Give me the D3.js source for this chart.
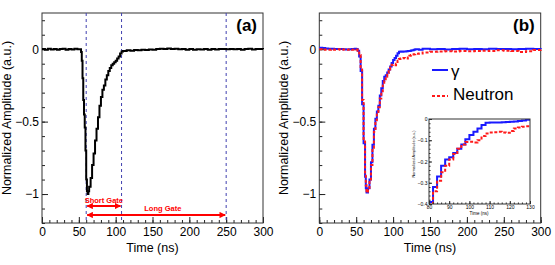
<!DOCTYPE html>
<html>
<head>
<meta charset="utf-8">
<script src="https://cdn.jsdelivr.net/npm/d3@7"></script>
<style>
  body { margin: 0; background: #fff; }
  text { font-family: "Liberation Sans", Arial, sans-serif; }
</style>
</head>
<body>
<div id="chart"></div>
<script>
// panel (a): single pulse
var timeA = [0,4,8,12,16,20,24,28,32,36,40,44,48,52,53,54,55,56,57,58,59,60,61,62,63,64,66,68,70,72,74,76,78,80,82,84,86,88,90,92,94,96,98,100,102,104,106,108,110,115,120,125,130,135,140,145,150,155,160,165,170,175,180,185,190,195,200,205,210,215,220,225,230,235,240,245,250,255,260,265,270,275,280,285,290,295,300];
var ampA = [0.002,-0.003,0.003,-0.002,0.002,-0.004,0.001,0.003,-0.003,0.002,-0.002,0.003,-0.001,0.0,-0.02,-0.08,-0.2,-0.35,-0.45,-0.54,-0.7,-0.9,-0.98,-1.0,-0.98,-0.95,-0.89,-0.8,-0.72,-0.63,-0.55,-0.47,-0.39,-0.33,-0.28,-0.25,-0.21,-0.18,-0.15,-0.13,-0.11,-0.1,-0.09,-0.08,-0.065,-0.05,-0.03,-0.015,-0.012,-0.008,-0.01,-0.005,-0.008,-0.003,-0.006,-0.002,-0.004,0.001,0.004,0.002,0.005,0.001,0.003,-0.001,0.002,-0.003,0.001,-0.004,0.0,-0.002,0.001,-0.003,0.001,-0.002,0.001,0.002,-0.001,0.002,0.0,0.002,-0.003,0.001,0.003,-0.002,0.002,0.001,0.0];

// panel (b): gamma vs neutron
var timeB = [0,4,8,12,16,20,24,28,32,36,40,44,48,50,52,54,56,58,60,62,63,64,65,66,68,70,72,74,76,78,80,82,84,86,88,90,92,94,96,98,100,102,104,106,108,110,112,114,116,118,120,122,124,126,128,130,135,140,150,160,170,180,190,200,210,220,230,240,250,260,270,280,290,300];
var gammaB = [0.01,0.008,0.005,0.004,0.003,0.002,0.002,0.001,0.0,-0.002,0.0,0.002,0.003,0.002,-0.01,-0.05,-0.15,-0.38,-0.65,-0.88,-0.96,-0.99,-0.99,-0.96,-0.9,-0.78,-0.66,-0.55,-0.48,-0.43,-0.39,-0.32,-0.27,-0.22,-0.19,-0.18,-0.16,-0.14,-0.12,-0.095,-0.075,-0.06,-0.045,-0.028,-0.018,-0.016,-0.017,-0.016,-0.015,-0.014,-0.013,-0.012,-0.009,-0.007,-0.003,0.0,-0.004,0.003,0.0,0.002,-0.002,0.001,0.003,0.0,0.002,-0.001,0.003,0.001,0.002,-0.001,0.002,0.004,0.002,0.0];
var neutronB = [0.0,-0.003,-0.002,-0.004,-0.002,-0.003,-0.001,-0.003,-0.002,-0.004,-0.002,-0.003,-0.001,-0.002,-0.01,-0.04,-0.13,-0.35,-0.62,-0.86,-0.94,-0.98,-0.99,-0.97,-0.91,-0.8,-0.68,-0.57,-0.49,-0.44,-0.4,-0.34,-0.29,-0.25,-0.22,-0.19,-0.165,-0.14,-0.12,-0.108,-0.107,-0.11,-0.1,-0.08,-0.068,-0.064,-0.062,-0.06,-0.063,-0.065,-0.057,-0.045,-0.04,-0.036,-0.034,-0.032,-0.03,-0.022,-0.018,-0.016,-0.014,-0.016,-0.012,-0.014,-0.012,-0.01,-0.012,-0.008,-0.01,-0.012,-0.02,-0.014,-0.006,-0.002];

var xTicks = [0,50,100,150,200,250,300];
var yTicks = [0,-0.5,-1];
var gates = [60,108,250];
var gateLabels = ["Short Gate","Long Gate"];
var insetXTicks = [80,90,100,110,120,130];
var insetYTicks = [0,-0.1,-0.2,-0.3,-0.4];
var seriesNames = ["\u03b3","Neutron"];

var W = 555, H = 265,
    plotTop = 13, plotBottom = 223;

var svg = d3.select("#chart").append("svg")
    .attr("width", W)
    .attr("height", H);

var y = d3.scaleLinear().domain([-1.2, 0.25]).range([plotBottom, plotTop]);

var fmt = function(d) { return d === 0 ? "0" : d3.format("")(d).replace("-", "\u2212"); };

function frame(g, x, y, xt, yt, big, small, nx, ny) {
  var x0 = x.range()[0], x1 = x.range()[1],
      y0 = y.range()[1], y1 = y.range()[0];
  // minor ticks
  g.append("g").attr("transform", "translate(0," + y1 + ")")
      .call(d3.axisBottom(x).tickValues(x.ticks(nx)).tickSize(-small).tickFormat(""))
      .call(function(s){ s.select(".domain").remove(); });
  g.append("g").attr("transform", "translate(" + x0 + ",0)")
      .call(d3.axisLeft(y).tickValues(y.ticks(ny)).tickSize(-small).tickFormat(""))
      .call(function(s){ s.select(".domain").remove(); });
  // major ticks
  var xa = g.append("g").attr("transform", "translate(0," + y1 + ")")
      .call(d3.axisBottom(x).tickValues(xt).tickSize(-big).tickPadding(big > 4 ? 4 : 1.5).tickFormat(d3.format("")));
  xa.select(".domain").remove();
  var ya = g.append("g").attr("transform", "translate(" + x0 + ",0)")
      .call(d3.axisLeft(y).tickValues(yt).tickSize(-big).tickPadding(big > 4 ? 3 : 1.5).tickFormat(fmt));
  ya.select(".domain").remove();
  g.selectAll(".tick line").attr("stroke", "#222");
  g.selectAll(".tick text").attr("fill", "#000").attr("font-family", "Liberation Sans, Arial, sans-serif");
  g.append("rect")
      .attr("x", x0).attr("y", y0)
      .attr("width", x1 - x0).attr("height", y1 - y0)
      .attr("fill", "none").attr("stroke", "#333").attr("stroke-width", 1);
  return [xa, ya];
}

function mainPanel(x0, x1, label, titleX) {
  var x = d3.scaleLinear().domain([0, 300]).range([x0, x1]);
  var g = svg.append("g");
  var ax = frame(g, x, y, xTicks, yTicks, 6, 3, 30, 15);
  ax[0].selectAll("text").attr("font-size", 12);
  ax[1].selectAll("text").attr("font-size", 12);
  g.append("text")
      .attr("x", (x0 + x1) / 2).attr("y", 252)
      .attr("text-anchor", "middle").attr("font-size", 12.5)
      .text("Time (ns)");
  g.append("text")
      .attr("transform", "translate(" + titleX + "," + (plotTop + plotBottom) / 2 + ") rotate(-90)")
      .attr("text-anchor", "middle").attr("font-size", 12.5)
      .text("Normalized Amplitude (a.u.)");
  g.append("text")
      .attr("x", x1 - 6).attr("y", 31)
      .attr("text-anchor", "end").attr("font-size", 17).attr("font-weight", "bold")
      .text(label);
  return {g: g, x: x};
}

// ---- panel (a)
var pa = mainPanel(42, 263, "(a)", 11);
var xa = pa.x;

pa.g.selectAll(".gate").data(gates).enter().append("line")
    .attr("class", "gate")
    .attr("x1", function(d){ return xa(d); }).attr("x2", function(d){ return xa(d); })
    .attr("y1", plotTop).attr("y2", plotBottom)
    .attr("stroke", "#4040b0").attr("stroke-width", 1).attr("stroke-dasharray", "3,3");

var lineA = d3.line().curve(d3.curveStepAfter)
    .x(function(d, i){ return xa(timeA[i]); }).y(function(d){ return y(d); });
pa.g.append("path")
    .attr("d", lineA(ampA))
    .attr("fill", "none").attr("stroke", "#000").attr("stroke-width", 2);

// gate arrows
var defs = svg.append("defs");
defs.append("marker").attr("id", "ah").attr("viewBox", "0 0 10 10")
    .attr("refX", 9).attr("refY", 5).attr("markerWidth", 3.5).attr("markerHeight", 3.5)
    .attr("orient", "auto-start-reverse")
    .append("path").attr("d", "M0,0L10,5L0,10Z").attr("fill", "#f00");

var arrows = [[gates[0], gates[1], 206, 203, (gates[0] + gates[1]) / 2],
              [gates[0], gates[2], 215, 211, 164]];
arrows.forEach(function(a, i) {
  pa.g.append("line")
      .attr("x1", xa(a[0]) + 1).attr("x2", xa(a[1]) - 1)
      .attr("y1", a[2]).attr("y2", a[2])
      .attr("stroke", "#f00").attr("stroke-width", 1.8)
      .attr("marker-start", "url(#ah)").attr("marker-end", "url(#ah)");
  pa.g.append("text")
      .attr("x", xa(a[4])).attr("y", a[3])
      .attr("text-anchor", "middle").attr("font-size", 7.5).attr("font-weight", "bold")
      .attr("fill", "#f00")
      .text(gateLabels[i]);
});

// ---- panel (b)
var pb = mainPanel(319.3, 540.7, "(b)", 288);
var xb = pb.x;

var lineB = function(vals) {
  return d3.line().curve(d3.curveStepAfter)
      .x(function(d, i){ return xb(timeB[i]); }).y(function(d){ return y(d); })(vals);
};
pb.g.append("path").attr("d", lineB(gammaB))
    .attr("fill", "none").attr("stroke", "#1a1aff").attr("stroke-width", 2);
pb.g.append("path").attr("d", lineB(neutronB))
    .attr("fill", "none").attr("stroke", "#ff1a1a").attr("stroke-width", 2).attr("stroke-dasharray", "3,2");

// legend
var legY = [70, 96], legText = [77, 100];
seriesNames.forEach(function(n, i) {
  pb.g.append("line")
      .attr("x1", 432).attr("x2", 448).attr("y1", legY[i]).attr("y2", legY[i])
      .attr("stroke", i ? "#ff1a1a" : "#1a1aff").attr("stroke-width", 2)
      .attr("stroke-dasharray", i ? "3,2" : null);
  pb.g.append("text")
      .attr("x", i ? 453 : 451).attr("y", legText[i])
      .attr("font-size", 17)
      .text(n);
});

// inset
var ix = d3.scaleLinear().domain([80, 130]).range([429, 530]),
    iy = d3.scaleLinear().domain([-0.4, 0]).range([204, 119]);
var ig = pb.g.append("g");
ig.append("rect").attr("x", 429).attr("y", 119).attr("width", 101).attr("height", 85).attr("fill", "#fff");
ig.append("clipPath").attr("id", "iclip")
    .append("rect").attr("x", 429).attr("y", 119).attr("width", 101).attr("height", 85);
var iline = function(vals) {
  return d3.line().curve(d3.curveStepAfter)
      .x(function(d, i){ return ix(timeB[i]); }).y(function(d){ return iy(d); })(vals);
};
var cg = ig.append("g").attr("clip-path", "url(#iclip)");
cg.append("path").attr("d", iline(gammaB))
    .attr("fill", "none").attr("stroke", "#1a1aff").attr("stroke-width", 2);
cg.append("path").attr("d", iline(neutronB))
    .attr("fill", "none").attr("stroke", "#ff1a1a").attr("stroke-width", 2).attr("stroke-dasharray", "3,2");
var iax = frame(ig, ix, iy, insetXTicks, insetYTicks, 3, 1.5, 25, 20);
iax[0].selectAll("text").attr("font-size", 5);
iax[1].selectAll("text").attr("font-size", 5);
ig.append("text")
    .attr("x", 479).attr("y", 215)
    .attr("text-anchor", "middle").attr("font-size", 4.5)
    .text("Time (ns)");
ig.append("text")
    .attr("transform", "translate(415,154) rotate(-90)")
    .attr("text-anchor", "middle").attr("font-size", 3.8)
    .text("Normalized Amplitude (a.u.)");
</script>
</body>
</html>
